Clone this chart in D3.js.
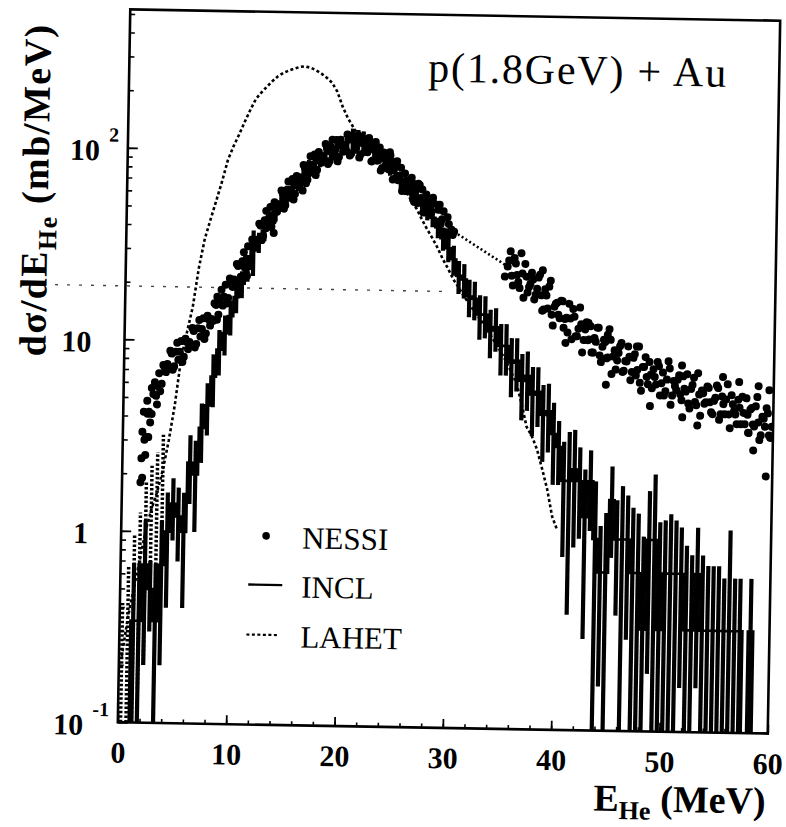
<!DOCTYPE html>
<html>
<head>
<meta charset="utf-8">
<script src="https://cdn.jsdelivr.net/npm/d3@7"></script>
<style>
  body { margin: 0; background: #fff; }
</style>
</head>
<body>
<div id="chart"></div>
<script>
// ---------------------------//
//          DATA              //
// ---------------------------//

// axis ticks
var xTicksMajor = [0, 10, 20, 30, 40, 50, 60];
var yTickVals = [0.1, 1, 10, 100];
var yTickBase = ["10", "1", "10", "10"];
var yTickSup = ["-1", "", "", "2"];
var legendNames = ["NESSI", "INCL", "LAHET"];

// NESSI: main band, E from 2.0 MeV in 0.25 MeV steps
var nessiStep = 0.25;
var nessiBandStart = 2.0;
var nessiBandV = [
  3.0, 4.1, 3.7, 5.2, 5.1, 6.7, 5.9, 7.2,
  7.5, 8.8, 7.0, 8.7, 7.9, 9.9, 8.2, 9.8,
  9.8, 11.6, 9.2, 11.6, 10.5, 13.1, 10.9, 12.9,
  13, 15.7, 12.9, 16.5, 15.3, 19.7, 16.8, 20.4,
  21, 25.3, 20.7, 26.2, 24.2, 31.4, 27, 33,
  34, 41.3, 33.9, 43.1, 40, 50.6, 42.8, 51.2,
  52, 61.8, 49.7, 62.2, 56.7, 71.1, 59.4, 70.6,
  71, 84.4, 67.8, 84.8, 77.2, 96, 79.7, 93.9,
  94, 109, 85.8, 105, 93.9, 114.8, 93.6, 108.7,
  107, 122.8, 95.5, 115.8, 102.3, 122, 97.2, 110.2,
  106, 118.2, 89.3, 105.2, 90.2, 105.8, 82.8, 92.2,
  87, 96.3, 72.2, 84.3, 71.6, 83.4, 64.8, 71.6,
  67, 74.1, 55.4, 64.7, 54.9, 64.4, 50.4, 56.1,
  53, 58.4, 43.6, 50.6, 42.8, 49.8, 38.7, 42.7,
  40, 39
];
// NESSI: main band, second row, E from 2.125 MeV in 0.25 MeV steps
var nessiBand2Start = 2.125;
var nessiBand2V = [
  3.1, 4.2, 4.1, 6.0, 5.75, 5.4, 7.4, 6.8,
  7.2, 8.5, 7.3, 9.7, 8.7, 7.7, 10.2, 9.0,
  9.5, 11.2, 9.6, 12.8, 11.5, 10.2, 13.5, 12.0,
  12.7, 15.4, 13.7, 18.5, 17.0, 15.7, 21.2, 19.2,
  20.5, 24.7, 21.7, 29.2, 27, 24.9, 34.1, 31,
  33.3, 40.4, 35.6, 48.2, 44.1, 39.9, 53.5, 47.8,
  50.4, 59.8, 51.8, 68.9, 62.2, 55.6, 73.9, 65.5,
  68.9, 81.5, 70.7, 93.7, 84.4, 74.9, 98.9, 87.0,
  90.2, 104.3, 88.6, 115.1, 101.7, 88.8, 115.2, 99.8,
  102, 116.7, 98, 120, 109.5, 93.3, 118.3, 100.1,
  99.7, 110.8, 90.4, 112.8, 95.7, 80.2, 99.8, 82.9,
  81.4, 89.9, 72.6, 89.9, 75.7, 63, 77.8, 64.1,
  62.7, 69.1, 55.8, 69, 58.2, 48.8, 60.7, 50.5,
  49.5, 54.4, 43.7, 53.9, 45.2, 37.7, 46.4, 38.4,
  37.5
];
// NESSI: tail, E from 35.25 MeV in 0.25 MeV steps
var nessiTailStart = 35.25;
var nessiTailV = [
  26.0, 31.2, 20.7, 27.0, 21.6, 30.6, 17.9, 23.1,
  20.4, 24.2, 17.6, 20.0, 23.7, 15.4, 19.9, 15.8,
  22.1, 12.9, 16.8, 14.7, 17.4, 12.6, 14.2, 16.8,
  11.0, 14.4, 11.4, 16.1, 9.4, 12.4, 10.9, 12.9,
  9.4, 10.7, 12.7, 8.4, 11.0, 8.8, 12.5, 7.3,
  9.7, 8.6, 10.2, 7.5, 8.55, 10.2, 6.8, 8.9,
  7.2, 10.2, 6.0, 8.0, 7.1, 8.5, 6.2, 7.1,
  8.5, 5.7, 7.5, 6.0, 8.6, 5.1, 6.8, 6.1,
  7.3, 5.4, 6.2, 7.4, 4.9, 6.5, 5.3, 7.5,
  4.5, 5.9, 5.3, 6.3, 4.7, 5.4, 6.5, 4.3,
  5.7, 4.6, 6.6, 3.9, 5.2, 4.6, 5.5, 4.1,
  4.7, 5.6, 3.7, 5.0, 4.0, 5.7, 3.4, 4.5,
  4.0, 4.7, 3.5, 4.0
];
// NESSI: tail, second row, E from 35.375 MeV in 0.25 MeV steps
var nessiTail2Start = 35.375;
var nessiTail2V = [
  27.9, 23.3, 28.8, 23.5, 20.1, 24.0, 26.9, 19.1, 21.2,
  22.4, 18.6, 22.9, 18.5, 15.6, 18.5, 20.6, 14.7, 16.2,
  17.0, 14.1, 17.3, 14.0, 11.9, 14.1, 15.8, 11.4, 12.5,
  13.2, 10.9, 13.5, 11.0, 9.4, 11.2, 12.7, 9.1, 10.1,
  10.7, 8.9, 11.0, 9.0, 7.7, 9.4, 10.6, 7.6, 8.5,
  9.0, 7.5, 9.3, 7.7, 6.6, 8.0, 9.0, 6.5, 7.3,
  7.8, 6.5, 8.1, 6.6, 5.7, 6.9, 7.9, 5.7, 6.4,
  6.9, 5.8, 7.2, 6.0, 5.2, 6.2, 7.1, 5.1, 5.8,
  6.1, 5.2, 6.4, 5.3, 4.6, 5.6, 6.3, 4.6, 5.2,
  5.5, 4.6, 5.8, 4.8, 4.1, 5.0, 5.7, 4.1, 4.6,
  4.9, 4.1, 5.1, 4.2, 3.6, 4.4, 5.0, 3.6, 4.0
];
// NESSI: single scattered points [E, value]
var nessiExtra = [
  [1.7, 1.8], [1.75, 2.4], [1.8, 3.3], [1.85, 1.9], [1.9, 4.2], [2.1, 2.5],
  [2.2, 4.8], [2.35, 3.1], [2.6, 5.6], [3.1, 4.6], [8.5, 17], [11.2, 22],
  [13.6, 37], [16.2, 62], [24.2, 100], [27, 68], [35, 23], [38.5, 25],
  [40.7, 10.5], [42.8, 13.4], [44.6, 11.7], [47.3, 10.2], [51.5, 8.2],
  [56.8, 6.8], [58.6, 6.5], [44.5, 6.4], [48.6, 5.0], [51.6, 4.4],
  [57.7, 3.7], [59.4, 2.2], [58.2, 3.0], [59.6, 6.2], [55.3, 7.2], [53, 4.0]
];
// NESSI: gap between 30 and 35 MeV bridged by a dotted line
var nessiGap = [[30.25, 39], [35.25, 26]];

// INCL: histogram, 0.5 MeV bins from 0 to 60 MeV, value and error
var inclBinWidth = 0.5;
var inclV = [
  0, 0, 0.34, 0.34, 0.67, 0.5, 0.34, 0.67, 1.0, 1.4,
  1.2, 1.0, 2.3, 2.0, 3.5, 4.6, 6.5, 9.0, 11, 13.5,
  17, 20, 24, 30, 33, 38, 43, 48, 54, 59,
  64, 69, 75, 81, 87, 92, 97, 100, 104, 108,
  112, 114, 116, 112, 108, 102, 96, 90, 84, 78,
  72, 67, 62, 58, 54, 50, 46, 41, 36, 32,
  28, 23, 22, 18, 17.5, 14.5, 14.5, 12, 12.5, 10,
  10, 8.2, 8.4, 6.6, 7, 5.6, 5.8, 4.4, 4.6, 3.5,
  3.0, 2.0, 2.0, 2.3, 2.0, 1.3, 2.0, 1.0, 0.67, 0.67,
  1.6, 1.0, 1.0, 1.0, 0.67, 0.67, 0.34, 1.0, 1.0, 0.34,
  0.67, 0.67, 0.67, 0.67, 0.34, 0.34, 0.67, 0.34, 0.34, 0.34,
  0.34, 0.34, 0.34, 0.34, 0.34, 0, 0.34, 0, 0, 0
];
var inclErr = [
  0, 0, 0.34, 0.34, 0.47, 0.2, 0.34, 0.47, 0.6, 0.5,
  0.5, 0.6, 0.9, 1.0, 1.2, 1.4, 2.0, 2.4, 2.6, 2.8,
  3, 3.2, 3.5, 8, 4, 4.5, 5, 5.5, 6, 6.5,
  7, 7.5, 8, 8.5, 9, 9.5, 10, 12, 10, 12,
  16, 18, 14, 16, 10, 9, 9, 9, 8.5, 8,
  7.5, 7, 6.5, 6, 5.5, 5.5, 5, 5, 5, 5,
  5, 4.5, 4.5, 4, 4, 3.8, 3.6, 3.4, 3.2, 3,
  3, 2.8, 2.6, 2.5, 2.4, 2.2, 2, 1.9, 1.8, 1.6,
  1.1, 1.2, 1.6, 1.4, 1.0, 1.0, 0.9, 1.0, 0.5, 0.7,
  0.8, 0.6, 0.9, 0.7, 0.8, 0.7, 0.7, 0.8, 1.2, 0.9,
  0.6, 0.7, 0.6, 0.5, 0.6, 0.5, 0.5, 0.5, 0.4, 0.4,
  0.4, 0.3, 0.8, 0.3, 0.3, 0, 0.3, 0, 0, 0
];

// LAHET: 0.5 MeV bins from 0 to 40.5 MeV
var lahetBinWidth = 0.5;
var lahetV = [
  0.22, 0.35, 0.5, 0.7, 1.0, 1.3, 1.6, 2.1, 3.0, 4.6,
  8.0, 11, 15, 24, 34, 43, 54, 68, 88, 104,
  120, 140, 162, 185, 200, 215, 230, 244, 254, 262,
  268, 274, 276, 272, 264, 254, 242, 228, 205, 172,
  150, 135, 122, 112, 104, 98, 92, 86, 80, 74,
  68, 63, 56, 51, 45, 40, 36, 32, 28, 25,
  22, 20, 18, 16.5, 15, 13.8, 12.6, 11.4, 10.3, 9.3,
  8.3, 7.3, 6.4, 5.0, 3.8, 3.4, 2.9, 2.3, 1.8, 1.3,
  1.1
];
// LAHET error bars, first bins only (the rest is hidden by the line)
var lahetErr = [0.2, 0.3, 0.45, 0.55, 0.8, 0.9, 1.0, 1.1];

// ---------------------------//
//      LAYOUT  AND SCALES    //
// ---------------------------//
var W = 786, H = 827;
var margin = {left: 124, top: 15};
var pw = 650, ph = 713;
var serif = "'Liberation Serif', 'Times New Roman', serif";
var ink = "#000";

var svg = d3.select("#chart")
  .append("svg")
    .attr("width", W)
    .attr("height", H)
    .style("background", "#fff");

// the scanned figure is tilted by about one degree
var root = svg.append("g").attr("transform", "rotate(1,449,371.5)");
var g = root.append("g")
  .attr("transform", "translate(" + margin.left + "," + margin.top + ")");

var x = d3.scaleLinear().domain([0, 60]).range([0, pw]);
var y = d3.scaleLog().domain([0.1, 528]).range([ph, 0]).clamp(true);
var yv = function(v) { return v > 0 ? y(v) : ph; };

g.append("clipPath").attr("id", "clip")
  .append("rect").attr("width", pw).attr("height", ph);

// faint scan line crossing the figure
g.append("line")
  .attr("x1", x(-6.5)).attr("x2", x(30))
  .attr("y1", y(19)).attr("y2", y(19))
  .attr("stroke", "#444")
  .attr("stroke-width", 1.4)
  .attr("stroke-dasharray", "3,9");

var plot = g.append("g").attr("clip-path", "url(#clip)");

// ---------------------------//
//          LAHET             //
// ---------------------------//
var lahetPts = lahetV.map(function(v, i) { return [i * lahetBinWidth + lahetBinWidth / 2, v]; });

plot.selectAll("line.lerr")
  .data(lahetErr)
  .enter()
  .append("line")
    .attr("class", "lerr")
    .attr("x1", function(d, i) { return x(lahetPts[i][0]); })
    .attr("x2", function(d, i) { return x(lahetPts[i][0]); })
    .attr("y1", function(d, i) { return yv(lahetPts[i][1] - d); })
    .attr("y2", function(d, i) { return y(lahetPts[i][1] + d); })
    .attr("stroke", ink)
    .attr("stroke-width", 3.5)
    .attr("stroke-dasharray", "2.5,2");

plot.append("path")
  .datum(lahetPts)
  .attr("fill", "none")
  .attr("stroke", ink)
  .attr("stroke-width", 2.6)
  .attr("stroke-dasharray", "3,2.5")
  .attr("d", d3.line()
    .x(function(d) { return x(d[0]); })
    .y(function(d) { return y(d[1]); }));

// ---------------------------//
//          INCL              //
// ---------------------------//
var inclPts = inclV.map(function(v, i) { return [i * inclBinWidth, v]; });
inclPts.push([60, 0]);

plot.append("path")
  .datum(inclPts)
  .attr("fill", "none")
  .attr("stroke", ink)
  .attr("stroke-width", 2.6)
  .attr("d", d3.line()
    .curve(d3.curveStepAfter)
    .x(function(d) { return x(d[0]); })
    .y(function(d) { return yv(d[1]); }));

var inclBars = inclV.map(function(v, i) {
  return {e: i * inclBinWidth + inclBinWidth / 2, v: v, err: inclErr[i]};
}).filter(function(d) { return d.v > 0; });

plot.selectAll("rect.ierr")
  .data(inclBars)
  .enter()
  .append("rect")
    .attr("class", "ierr")
    .attr("x", function(d) { return x(d.e) - 2.1; })
    .attr("width", 4.2)
    .attr("y", function(d) { return y(d.v + d.err); })
    .attr("height", function(d) { return yv(d.v - d.err) - y(d.v + d.err); })
    .attr("fill", ink);

// ---------------------------//
//          NESSI             //
// ---------------------------//
var nessiPts = [];
nessiBandV.forEach(function(v, i) { nessiPts.push([nessiBandStart + i * nessiStep, v]); });
nessiBand2V.forEach(function(v, i) { nessiPts.push([nessiBand2Start + i * nessiStep, v]); });
nessiTailV.forEach(function(v, i) { nessiPts.push([nessiTailStart + i * nessiStep, v]); });
nessiTail2V.forEach(function(v, i) { nessiPts.push([nessiTail2Start + i * nessiStep, v]); });
nessiExtra.forEach(function(d) { nessiPts.push(d); });

plot.selectAll("circle.nessi")
  .data(nessiPts)
  .enter()
  .append("circle")
    .attr("class", "nessi")
    .attr("cx", function(d) { return x(d[0]); })
    .attr("cy", function(d) { return y(d[1]); })
    .attr("r", 4.0)
    .attr("fill", ink);

plot.append("path")
  .datum(nessiGap)
  .attr("fill", "none")
  .attr("stroke", ink)
  .attr("stroke-width", 2.6)
  .attr("stroke-dasharray", "2,2.5")
  .attr("d", d3.line()
    .x(function(d) { return x(d[0]); })
    .y(function(d) { return y(d[1]); }));

// ---------------------------//
//       AXES AND FRAME       //
// ---------------------------//
g.append("g")
  .attr("transform", "translate(0," + ph + ")")
  .call(d3.axisBottom(x).tickValues(d3.range(0, 61, 2)).tickSize(-4).tickFormat(""))
  .call(function(s) { s.select(".domain").remove(); })
  .selectAll("line").attr("stroke", ink).attr("stroke-width", 1.6);

var xAxis = g.append("g")
  .attr("transform", "translate(0," + ph + ")")
  .call(d3.axisBottom(x).tickValues(xTicksMajor).tickSize(-9).tickPadding(19).tickFormat(d3.format("d")))
  .attr("font-family", serif)
  .attr("font-size", 30)
  .attr("font-weight", "bold");
xAxis.select(".domain").remove();
xAxis.selectAll("line").attr("stroke", ink).attr("stroke-width", 1.8);
xAxis.selectAll("text").attr("fill", ink);

var yMinor = y.ticks().filter(function(d) { return yTickVals.indexOf(d) < 0; });
g.append("g")
  .call(d3.axisLeft(y).tickValues(yMinor).tickSize(-5).tickFormat(""))
  .call(function(s) { s.select(".domain").remove(); })
  .selectAll("line").attr("stroke", ink).attr("stroke-width", 1.6);
g.append("g")
  .call(d3.axisLeft(y).tickValues(yTickVals).tickSize(-10).tickFormat(""))
  .call(function(s) { s.select(".domain").remove(); })
  .selectAll("line").attr("stroke", ink).attr("stroke-width", 1.8);

// y tick labels with superscript exponents
var yLab = g.selectAll("text.ylab")
  .data(yTickVals)
  .enter()
  .append("text")
    .attr("class", "ylab")
    .attr("x", function(d, i) { return yTickSup[i] ? -9 : -33; })
    .attr("y", function(d) { return y(d) + 13; })
    .attr("text-anchor", "end")
    .attr("font-family", serif)
    .attr("font-size", 30)
    .attr("font-weight", "bold")
    .attr("fill", ink);
yLab.append("tspan").text(function(d, i) { return yTickBase[i]; });
yLab.append("tspan")
  .attr("dx", function(d, i) { return yTickSup[i] ? 9 : 0; })
  .attr("dy", -19)
  .attr("font-size", 20)
  .text(function(d, i) { return yTickSup[i]; });

g.append("rect")
  .attr("width", pw)
  .attr("height", ph)
  .attr("fill", "none")
  .attr("stroke", ink)
  .attr("stroke-width", 2.6);

// ---------------------------//
//       TITLES               //
// ---------------------------//
root.append("text")
  .attr("x", 423)
  .attr("y", 82)
  .attr("font-family", serif)
  .attr("font-size", 42)
  .attr("letter-spacing", 1.8)
  .attr("fill", ink)
  .text("p(1.8GeV) + Au");

var xt = root.append("text")
  .attr("x", 601)
  .attr("y", 808)
  .attr("font-family", serif)
  .attr("font-size", 38)
  .attr("font-weight", "bold")
  .attr("fill", ink);
xt.append("tspan").text("E");
xt.append("tspan").attr("font-size", 26).attr("dy", 8).text("He");
xt.append("tspan").attr("dy", -8).text(" (MeV)");

var yt = root.append("text")
  .attr("transform", "translate(45,197) rotate(-90)")
  .attr("text-anchor", "middle")
  .attr("font-family", serif)
  .attr("font-size", 38)
  .attr("font-weight", "bold")
  .attr("letter-spacing", 1.5)
  .attr("fill", ink);
yt.append("tspan").text("d\u03c3/dE");
yt.append("tspan").attr("font-size", 26).attr("dy", 9).text("He");
yt.append("tspan").attr("dy", -9).text(" (mb/MeV)");

// ---------------------------//
//       LEGEND               //
// ---------------------------//
var legendY = [524, 573, 623];
var leg = g.append("g");
leg.append("circle").attr("cx", 145).attr("cy", legendY[0]).attr("r", 3.8).attr("fill", ink);
leg.append("line")
  .attr("x1", 128).attr("x2", 162)
  .attr("y1", legendY[1]).attr("y2", legendY[1])
  .attr("stroke", ink).attr("stroke-width", 2.4);
leg.append("line")
  .attr("x1", 127).attr("x2", 160)
  .attr("y1", legendY[2]).attr("y2", legendY[2])
  .attr("stroke", ink).attr("stroke-width", 2.2)
  .attr("stroke-dasharray", "3,2.5");
leg.selectAll("text")
  .data(legendNames)
  .enter()
  .append("text")
    .attr("x", 181)
    .attr("y", function(d, i) { return legendY[i] + 12; })
    .attr("font-family", serif)
    .attr("font-size", 31)
    .attr("fill", ink)
    .text(function(d) { return d; });
</script>
</body>
</html>
